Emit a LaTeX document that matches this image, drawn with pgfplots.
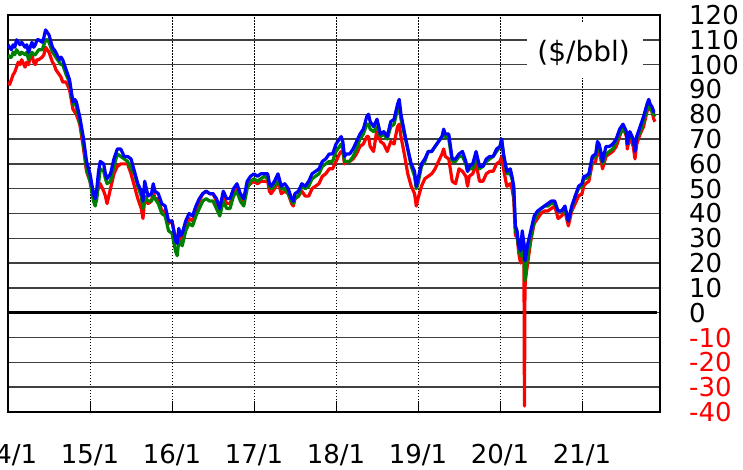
\documentclass[border=0pt]{standalone}
\usepackage{fontspec}
\setmainfont{DejaVu Sans}
\usepackage{pgfplots}
\usepackage{pgfplotstable}
\pgfplotsset{compat=1.18}

\pgfplotstableread{
t w d b
2014.000 93 104 108
2014.020 92 103 107
2014.042 94 103 106
2014.063 96 105 108
2014.083 97 104 107
2014.104 99 106 110
2014.125 101 105 109
2014.146 100 104 108
2014.167 102 105 109
2014.208 99 104 107
2014.229 101 105 108
2014.250 100 102 105
2014.271 103 104 107
2014.292 104 105 109
2014.313 101 104 107
2014.333 100 104 108
2014.354 102 105 110
2014.375 102 106 110
2014.417 103 106 109
2014.438 104 108 111
2014.458 107 110 114
2014.479 106 110 113
2014.500 105 109 112
2014.542 101 105 107
2014.563 100 104 106
2014.583 98 103 105
2014.625 96 101 102
2014.646 95 100 103
2014.667 93 100 102
2014.708 93 96 98
2014.750 90 93 94
2014.792 82 84 85
2014.813 81 85 86
2014.833 80 83 85
2014.875 76 77 79
2014.917 67 69 71
2014.958 57 58 61
2015.000 53 53 56
2015.042 47 45 48
2015.063 45 43 46
2015.083 48 46 50
2015.104 51 52 57
2015.125 52 58 61
2015.167 49 57 60
2015.188 47 54 56
2015.208 44 52 54
2015.250 50 53 56
2015.292 56 59 62
2015.333 59 64 66
2015.375 60 63 66
2015.417 60 62 63
2015.458 60 61 63
2015.500 56 58 62
2015.542 51 56 57
2015.583 46 51 52
2015.625 42 47 49
2015.646 38 42 45
2015.667 46 47 53
2015.708 44 45 47
2015.750 45 45 48
2015.771 49 47 52
2015.792 46 46 49
2015.833 46 44 48
2015.875 41 40 44
2015.917 41 39 43
2015.958 36 33 37
2016.000 37 32 37
2016.042 30 25 29
2016.063 28 23 28
2016.083 33 29 34
2016.104 30 28 31
2016.125 29 27 32
2016.167 34 33 37
2016.208 38 36 40
2016.250 37 35 39
2016.292 41 39 43
2016.333 45 42 46
2016.375 48 45 48
2016.417 49 46 49
2016.458 48 45 48
2016.500 48 45 48
2016.542 45 42 46
2016.583 40 39 42
2016.625 47 45 49
2016.667 44 42 46
2016.708 44 42 46
2016.750 48 47 50
2016.792 51 49 52
2016.833 46 45 48
2016.875 45 43 46
2016.917 51 50 53
2016.958 52 53 55
2017.000 53 54 56
2017.042 52 53 55
2017.083 53 54 56
2017.125 53 55 56
2017.167 53 54 56
2017.188 49 51 52
2017.208 48 50 51
2017.250 50 51 53
2017.292 53 54 56
2017.333 48 50 51
2017.375 49 50 52
2017.417 48 48 50
2017.458 44 45 46
2017.479 43 44 45
2017.500 46 46 48
2017.542 47 47 49
2017.583 49 51 52
2017.625 47 50 51
2017.667 47 51 53
2017.708 50 54 56
2017.750 51 55 57
2017.792 52 56 58
2017.833 55 59 61
2017.875 56 60 62
2017.917 58 61 64
2017.958 58 61 64
2018.000 61 65 68
2018.042 64 67 70
2018.063 65 68 71
2018.083 65 66 69
2018.104 60 61 63
2018.125 61 61 64
2018.167 61 61 64
2018.208 62 63 66
2018.250 64 66 69
2018.292 67 70 72
2018.333 68 72 74
2018.375 71 76 79
2018.396 71 76 80
2018.417 67 74 77
2018.458 65 73 75
2018.500 74 75 78
2018.542 69 71 72
2018.583 68 72 73
2018.625 65 70 71
2018.667 69 75 77
2018.708 68 76 78
2018.750 75 82 84
2018.771 76 84 86
2018.792 71 78 80
2018.833 64 72 73
2018.875 56 66 66
2018.917 51 59 60
2018.958 48 55 57
2018.979 43 50 51
2019.000 46 52 54
2019.042 51 59 60
2019.083 54 61 62
2019.125 55 65 65
2019.167 56 65 65
2019.208 58 67 67
2019.250 61 69 69
2019.292 64 71 71
2019.313 66 72 74
2019.333 63 71 72
2019.375 62 70 72
2019.417 53 61 62
2019.458 52 61 62
2019.500 58 63 64
2019.542 57 63 65
2019.583 55 60 61
2019.604 51 57 57
2019.625 55 58 59
2019.667 56 58 60
2019.708 60 63 65
2019.750 53 58 59
2019.792 53 59 59
2019.833 56 61 62
2019.875 57 62 63
2019.917 57 63 63
2019.958 60 65 66
2020.000 61 67 67
2020.020 63 70 70
2020.042 58 64 64
2020.083 51 56 57
2020.125 52 56 58
2020.146 50 54 55
2020.167 46 50 51
2020.188 31 33 35
2020.208 31 31 33
2020.229 24 26 27
2020.250 20 23 25
2020.271 25 28 33
2020.292 20 22 28
2020.298 -37.6 17 24
2020.304 10 13 21
2020.313 14 16 22
2020.333 19 22 27
2020.375 29 30 33
2020.417 36 37 39
2020.458 38 40 41
2020.500 40 42 42
2020.542 41 43 43
2020.583 41 43 44
2020.625 42 44 45
2020.667 43 44 45
2020.708 38 41 41
2020.750 39 41 41
2020.792 41 41 43
2020.833 35 37 37
2020.875 41 42 43
2020.917 44 47 47
2020.958 47 50 51
2021.000 48 51 52
2021.021 51 54 55
2021.042 52 54 55
2021.083 53 55 56
2021.125 60 62 63
2021.167 61 63 64
2021.188 66 67 69
2021.208 65 66 68
2021.229 62 64 65
2021.250 58 60 61
2021.292 63 64 67
2021.333 64 65 67
2021.375 65 66 68
2021.417 67 69 70
2021.458 71 72 74
2021.500 75 74 76
2021.542 71 72 73
2021.552 66 68 68
2021.583 71 72 73
2021.625 67 69 70
2021.646 62 66 65
2021.667 68 70 71
2021.708 72 73 75
2021.750 75 77 79
2021.792 81 82 84
2021.813 84 84 86
2021.833 83 82 84
2021.854 81 81 83
2021.875 78 80 81
2021.890 77 79 81
}\oil

\begin{document}
\begin{tikzpicture}
\path[use as bounding box] (0,0) rectangle (743pt,469pt);
\begin{axis}[
  at={(8pt,57pt)}, anchor=south west,
  scale only axis, width=652pt, height=397pt,
  xmin=2014, xmax=2021.951, ymin=-40, ymax=120,
  xtick={2014,2015,2016,2017,2018,2019,2020,2021},
  xticklabels={14/1,15/1,16/1,17/1,18/1,19/1,20/1,21/1},
  ytick={-40,-30,-20,-10,0,10,20,30,40,50,60,70,80,90,100,110,120},
  yticklabels={\textcolor{red}{-40},\textcolor{red}{-30},\textcolor{red}{-20},\textcolor{red}{-10},0,10,20,30,40,50,60,70,80,90,100,110,120},
  xmajorgrids, ymajorgrids,
  x grid style={black, line width=0.8pt, dash pattern=on 1.5pt off 1.5pt},
  y grid style={black!75, line width=1.4pt},
  axis line style={black, line width=1.5pt},
  xtick pos=bottom, tick align=inside, major tick length=11pt,
  xtick style={black, line width=1pt},
  ytick pos=right, ytick style={draw=none},
  yticklabel pos=right,
  ticklabel style={font=\fontsize{26}{26}\selectfont},
  xticklabel style={anchor=base, yshift=-51pt},
  yticklabel style={anchor=west, inner sep=0pt, xshift=29pt},
]
\draw[black, line width=3pt] (axis cs:2014,0) -- (axis cs:2021.92,0);
\addplot[red, line width=3.2pt, line join=round] table[x=t,y=w]{\oil};
\addplot[green!50!black, line width=3.2pt, line join=round] table[x=t,y=d]{\oil};
\addplot[blue, line width=3.2pt, line join=round] table[x=t,y=b]{\oil};
\fill[white] (axis cs:2020.329,117.3) rectangle (axis cs:2021.744,94.8);
\node[font=\fontsize{28}{28}\selectfont] at (axis cs:2021.02,104.8) {(\$/bbl)};
\end{axis}
\end{tikzpicture}
\end{document}
